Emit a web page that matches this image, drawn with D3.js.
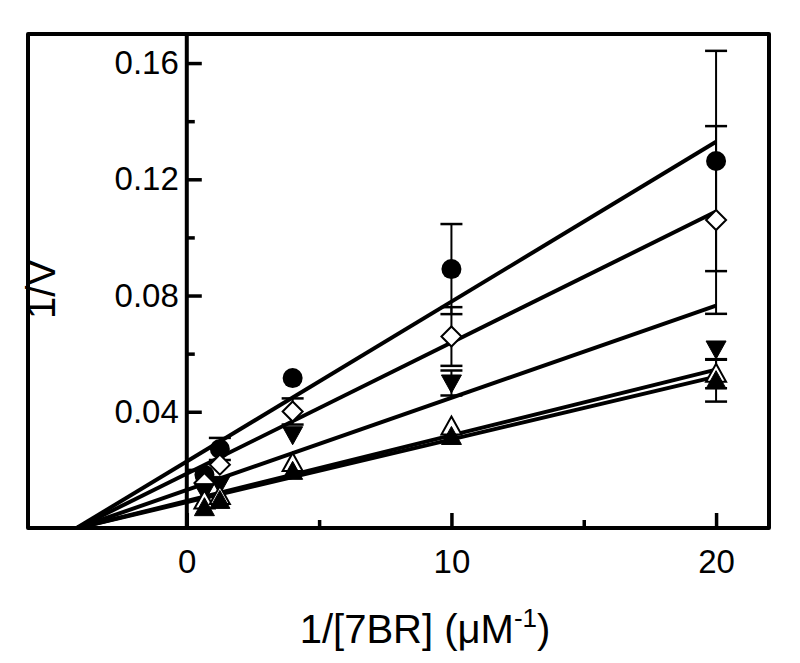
<!DOCTYPE html>
<html>
<head>
<meta charset="utf-8">
<script src="https://cdn.jsdelivr.net/npm/d3@7"></script>
<style>
  body { margin: 0; background: #fff; }
  text { font-family: "Liberation Sans", Arial, sans-serif; }
</style>
</head>
<body>
<svg id="chart" width="800" height="663"></svg>
<script>
// 1/[7BR] values (uM^-1)
const xValues = [0.667, 1.25, 4, 10, 20];

// 1/V per series (0 error = no bar visible)
const circleY = [0.0183, 0.0272, 0.0516, 0.0891, 0.1263];
const circleErr = [0, 0.0038, 0, 0.0155, 0.0379];
const diamondY = [0.0155, 0.0218, 0.0401, 0.0659, 0.1060];
const diamondErr = [0, 0, 0.0045, 0.0101, 0.0323];
const downY = [0.0125, 0.0150, 0.0321, 0.0499, 0.0616];
const downErr = [0, 0, 0, 0.0043, 0];
const openUpY = [0.0095, 0.0110, 0.0224, 0.0349, 0.0531];
const openUpErr = [0, 0, 0, 0, 0.0050];
const filledUpY = [0.0070, 0.0095, 0.0195, 0.0315, 0.0507];
const filledUpErr = [0, 0, 0, 0, 0.0072];

// linear fits (intercept at x=0, slope)
const fitIntercepts = [0.0229, 0.0187, 0.0131, 0.0093, 0.0089];
const fitSlopes = [0.00550, 0.00451, 0.00317, 0.00226, 0.00216];

const xMajorTicks = [0, 10, 20];
const xMinorTicks = [5, 15];
const yMajorTicks = [0.04, 0.08, 0.12, 0.16];
const yMinorTicks = [0.02, 0.06, 0.10, 0.14];

const series = [
  { shape: 'circle', y: circleY, err: circleErr },
  { shape: 'diamond', y: diamondY, err: diamondErr },
  { shape: 'down', y: downY, err: downErr },
  { shape: 'openUp', y: openUpY, err: openUpErr },
  { shape: 'filledUp', y: filledUpY, err: filledUpErr }
];

const svg = d3.select('#chart');
const plot = { left: 28, right: 769, top: 34, bottom: 528 };

const x = d3.scaleLinear().domain([-6, 22]).range([plot.left, plot.right]);
const y = d3.scaleLinear().domain([0, 0.17]).range([plot.bottom, plot.top]);

// clip for fit lines
svg.append('defs').append('clipPath').attr('id', 'plot-clip')
  .append('rect')
  .attr('x', plot.left).attr('y', plot.top)
  .attr('width', plot.right - plot.left).attr('height', plot.bottom - plot.top);

// fit lines, from x-intercept to x=20
const lineGen = d3.line().x(d => x(d[0])).y(d => y(d[1]));
const fits = fitIntercepts.map((b, i) => {
  const m = fitSlopes[i];
  return [[-b / m, 0], [20, b + m * 20]];
});
svg.append('g').attr('clip-path', 'url(#plot-clip)')
  .selectAll('path.fit')
  .data(fits)
  .join('path')
  .attr('class', 'fit')
  .attr('d', lineGen)
  .attr('fill', 'none')
  .attr('stroke', '#000')
  .attr('stroke-width', 4);

// error bars
const capHalf = 11;
const errGroup = svg.append('g').attr('class', 'errors');
series.forEach(s => {
  xValues.forEach((xv, i) => {
    if (!s.err[i]) return;
    const cx = x(xv);
    const top = y(s.y[i] + s.err[i]);
    const bot = y(s.y[i] - s.err[i]);
    errGroup.append('line')
      .attr('x1', cx).attr('x2', cx).attr('y1', top).attr('y2', bot)
      .attr('stroke', '#000').attr('stroke-width', 2);
    [top, bot].forEach(yy => {
      errGroup.append('line')
        .attr('x1', cx - capHalf).attr('x2', cx + capHalf)
        .attr('y1', yy).attr('y2', yy)
        .attr('stroke', '#000').attr('stroke-width', 2.5);
    });
  });
});

// markers
function markerPath(shape) {
  switch (shape) {
    case 'diamond': return 'M0,-10 L10,0 L0,10 L-10,0 Z';
    case 'down': return 'M-10,-8 L10,-8 L0,10 Z';
    default: return 'M0,-10 L10,8 L-10,8 Z';
  }
}
const markGroup = svg.append('g').attr('class', 'markers');
series.forEach(s => {
  xValues.forEach((xv, i) => {
    const cx = x(xv), cy = y(s.y[i]);
    if (s.shape === 'circle') {
      markGroup.append('circle')
        .attr('cx', cx).attr('cy', cy).attr('r', 10)
        .attr('fill', '#000');
    } else {
      const open = s.shape === 'diamond' || s.shape === 'openUp';
      markGroup.append('path')
        .attr('transform', `translate(${cx},${cy})`)
        .attr('d', markerPath(s.shape))
        .attr('fill', open ? '#fff' : '#000')
        .attr('stroke', '#000')
        .attr('stroke-width', open ? 2 : 1);
    }
  });
});

// frame
svg.append('rect')
  .attr('x', plot.left).attr('y', plot.top)
  .attr('width', plot.right - plot.left).attr('height', plot.bottom - plot.top)
  .attr('fill', 'none').attr('stroke', '#000').attr('stroke-width', 4)
  .attr('stroke-linejoin', 'round');

// y axis at x = 0
svg.append('line')
  .attr('x1', x(0)).attr('x2', x(0)).attr('y1', plot.top).attr('y2', plot.bottom)
  .attr('stroke', '#000').attr('stroke-width', 4);

function styleAxis(g) {
  g.select('.domain').remove();
  g.selectAll('.tick line').attr('stroke', '#000').attr('stroke-width', 3.5);
  g.selectAll('.tick text').attr('fill', '#000').style('font-size', '33px');
}

svg.append('g')
  .attr('transform', `translate(${x(0)},0)`)
  .call(d3.axisLeft(y).tickValues(yMajorTicks).tickSize(-15).tickPadding(8)
    .tickFormat(d3.format('.2f')))
  .call(styleAxis);
svg.append('g')
  .attr('transform', `translate(${x(0)},0)`)
  .call(d3.axisLeft(y).tickValues(yMinorTicks).tickSize(-8).tickFormat(''))
  .call(styleAxis);

svg.append('g')
  .attr('transform', `translate(0,${plot.bottom})`)
  .call(d3.axisBottom(x).tickValues(xMajorTicks).tickSize(-15).tickPadding(22)
    .tickFormat(d3.format('d')))
  .call(styleAxis);
svg.append('g')
  .attr('transform', `translate(0,${plot.bottom})`)
  .call(d3.axisBottom(x).tickValues(xMinorTicks).tickSize(-8).tickFormat(''))
  .call(styleAxis);

// axis titles
const xTitle = svg.append('text')
  .attr('x', 425).attr('y', 643)
  .attr('text-anchor', 'middle')
  .style('font-size', '40px');
xTitle.append('tspan').text('1/[7BR] (\u03BCM');
xTitle.append('tspan').attr('dy', -16).style('font-size', '26px').text('-1');
xTitle.append('tspan').attr('dy', 16).text(')');

svg.append('text')
  .attr('transform', 'translate(55,289) rotate(-90)')
  .attr('text-anchor', 'middle')
  .style('font-size', '40px')
  .text('1/V');
</script>
</body>
</html>
